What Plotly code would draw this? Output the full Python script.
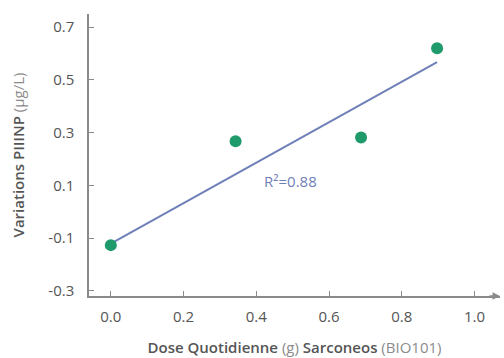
import plotly.graph_objects as go

dose = [0.0, 0.343, 0.688, 0.897]
piiinp = [-0.127, 0.267, 0.281, 0.62]
trend_x = [0.0, 0.897]
trend_y = [-0.121, 0.567]
r2_label = "R²=0.88"
x_ticks = [0.0, 0.2, 0.4, 0.6, 0.8, 1.0]
x_tick_text = ["0.0", "0.2", "0.4", "0.6", "0.8", "1.0"]
y_ticks = [-0.3, -0.1, 0.1, 0.3, 0.5, 0.7]
y_tick_text = ["-0.3", "-0.1", "0.1", "0.3", "0.5", "0.7"]

FONT = "Open Sans"
AX = "#8a8a8a"
TXT = "#555555"
LIGHT = "#8c8c8c"
BLUE = "#6f80b9"
GREEN = "#1e9a6b"

def strong(s):
    return "<span style='font-weight:600'>%s</span>" % s

def light(s):
    return "<span style='color:%s'>%s</span>" % (LIGHT, s)

fig = go.Figure()
fig.add_trace(go.Scatter(x=trend_x, y=trend_y, mode="lines",
                         line=dict(color=BLUE, width=2), hoverinfo="skip", showlegend=False))
fig.add_trace(go.Scatter(x=dose, y=piiinp, mode="markers",
                         marker=dict(color=GREEN, size=12), showlegend=False))

fig.add_annotation(x=0.495, y=0.117, text=r2_label, showarrow=False,
                   font=dict(family=FONT, size=15, color=BLUE))
# arrow at end of x axis
fig.add_annotation(xref="paper", yref="paper", x=1.0, y=0, ax=-12, ay=0,
                   text="", showarrow=True, arrowhead=2, arrowsize=1,
                   arrowwidth=1.5, arrowcolor=AX)

fig.update_layout(
    width=504, height=358,
    margin=dict(l=89, r=4, t=14, b=58),
    paper_bgcolor="white", plot_bgcolor="white",
    font=dict(family=FONT, size=15, color=TXT),
    xaxis=dict(range=[-0.06, 1.07], tickvals=x_ticks, ticktext=x_tick_text,
               showgrid=False, zeroline=False, showline=True, linecolor=AX, linewidth=1.5,
               ticks="inside", ticklen=5, tickcolor=AX, tickwidth=1,
               ticklabelstandoff=6,
               title=dict(text=strong("Dose Quotidienne") + " " + light("(g)") + " " + strong("Sarconeos") + " " + light("(BIO101)"),
                          font=dict(family=FONT, size=15, color=TXT), standoff=18)),
    yaxis=dict(range=[-0.32, 0.75], tickvals=y_ticks, ticktext=y_tick_text,
               showgrid=False, zeroline=False, showline=True, linecolor=AX, linewidth=1.5,
               ticks="inside", ticklen=5, tickcolor=AX, tickwidth=1,
               ticklabelstandoff=10,
               title=dict(text=strong("Variations PIIINP") + " " + light("(μg/L)"),
                          font=dict(family=FONT, size=15, color=TXT), standoff=20)),
)

fig.write_html("out.html")
